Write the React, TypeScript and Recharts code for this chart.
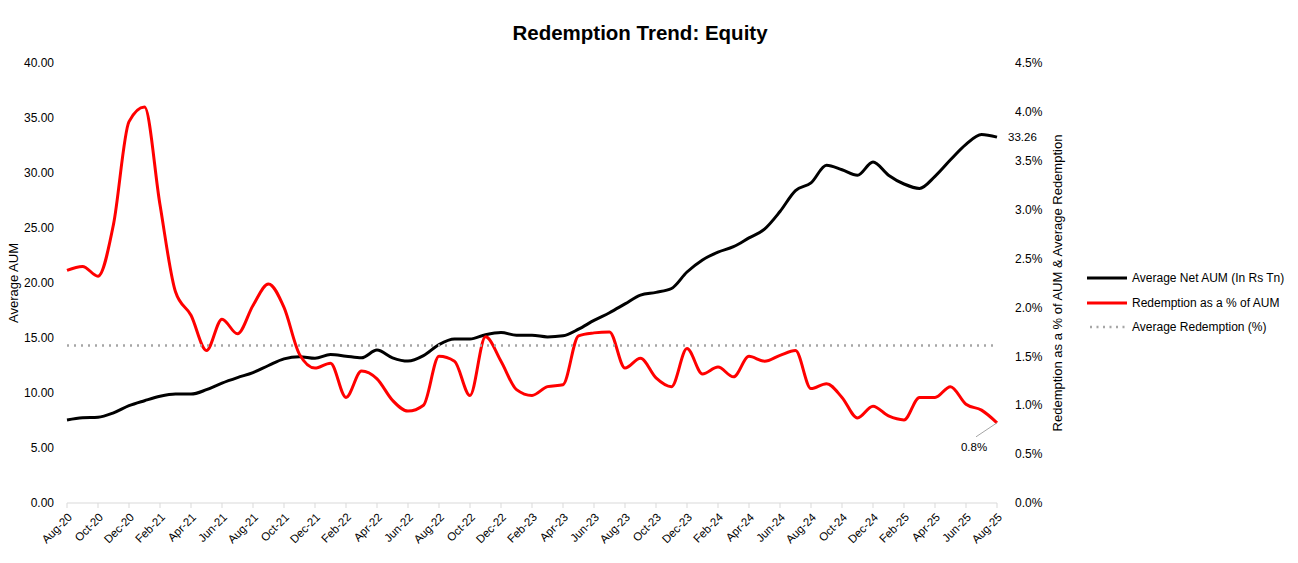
import { LineChart, Line, XAxis, YAxis, Legend, LabelList } from "recharts";

const MONTHS = [
  "Aug-20", "Sep-20", "Oct-20", "Nov-20", "Dec-20",
  "Jan-21", "Feb-21", "Mar-21", "Apr-21", "May-21", "Jun-21", "Jul-21", "Aug-21", "Sep-21", "Oct-21", "Nov-21", "Dec-21",
  "Jan-22", "Feb-22", "Mar-22", "Apr-22", "May-22", "Jun-22", "Jul-22", "Aug-22", "Sep-22", "Oct-22", "Nov-22", "Dec-22",
  "Jan-23", "Feb-23", "Mar-23", "Apr-23", "May-23", "Jun-23", "Jul-23", "Aug-23", "Sep-23", "Oct-23", "Nov-23", "Dec-23",
  "Jan-24", "Feb-24", "Mar-24", "Apr-24", "May-24", "Jun-24", "Jul-24", "Aug-24", "Sep-24", "Oct-24", "Nov-24", "Dec-24",
  "Jan-25", "Feb-25", "Mar-25", "Apr-25", "May-25", "Jun-25", "Jul-25", "Aug-25",
];

// Average Net AUM (In Rs Tn)
const AUM = [
  7.55, 7.75, 7.8, 8.2, 8.85,
  9.3, 9.7, 9.9, 9.9, 10.3, 10.9, 11.4, 11.85, 12.5, 13.1, 13.3, 13.15,
  13.5, 13.35, 13.2, 13.9, 13.2, 12.9, 13.4, 14.4, 14.9, 14.9, 15.3, 15.5,
  15.25, 15.25, 15.1, 15.2, 15.8, 16.6, 17.3, 18.1, 18.9, 19.15, 19.5, 21.0,
  22.1, 22.8, 23.3, 24.1, 24.9, 26.5, 28.4, 29.1, 30.7, 30.3, 29.8, 31.0,
  29.8, 29.0, 28.6, 29.7, 31.2, 32.6, 33.5, 33.26,
];

// Redemption as a % of AUM
const REDEMPTION_PCT = [
  2.38, 2.42, 2.32, 2.85, 3.9,
  4.05, 3.05, 2.16, 1.92, 1.56, 1.88, 1.73, 2.02, 2.24, 2.0, 1.52, 1.38,
  1.43, 1.08, 1.35, 1.27, 1.05, 0.94, 1.0, 1.5, 1.45, 1.1, 1.7, 1.45,
  1.16, 1.1, 1.19, 1.21, 1.71, 1.74, 1.75, 1.38, 1.48, 1.28, 1.19, 1.58,
  1.32, 1.39, 1.29, 1.5, 1.45, 1.51, 1.56, 1.17, 1.22, 1.08, 0.87, 0.99,
  0.89, 0.85, 1.08, 1.08, 1.19, 1.01, 0.95, 0.82,
];

const AVG_REDEMPTION = 1.61;

const AUM_TICKS = [0, 5, 10, 15, 20, 25, 30, 35, 40];
const PCT_TICKS = [0, 0.5, 1, 1.5, 2, 2.5, 3, 3.5, 4, 4.5];

const SERIES_ORDER = ["aum", "pct", "avg"];

const data = MONTHS.map((month, i) => ({
  month,
  aum: AUM[i],
  pct: REDEMPTION_PCT[i],
  avg: AVG_REDEMPTION,
}));

const FONT = "'Liberation Sans', Arial, sans-serif";
const LAST = MONTHS.length - 1;

const XTick = ({ x, y, payload }: any) => (
  <g transform={`translate(${x + 3},${y + 3})`}>
    <text
      transform="rotate(-45)"
      textAnchor="end"
      dy="0.35em"
      fontSize={11.5}
      fontFamily={FONT}
      fill="#000"
    >
      {payload.value}
    </text>
  </g>
);

const AumEndLabel = ({ x, y, index, value }: any) => {
  if (index !== LAST) return null;
  return (
    <text x={x + 11} y={y} dy="0.35em" fontSize={11.5} fontFamily={FONT} fill="#000">
      {Number(value).toFixed(2)}
    </text>
  );
};

const PctEndLabel = ({ x, y, index, value }: any) => {
  if (index !== LAST) return null;
  return (
    <g>
      <line x1={x} y1={y} x2={x - 21} y2={y + 14} stroke="#A6A6A6" strokeWidth={1} />
      <text x={x - 23} y={y + 24} dy="0.35em" textAnchor="middle" fontSize={11.5} fontFamily={FONT} fill="#000">
        {`${Number(value).toFixed(1)}%`}
      </text>
    </g>
  );
};

const LegendContent = ({ payload }: any) => {
  const items = [...(payload || [])].sort(
    (a: any, b: any) => SERIES_ORDER.indexOf(a.dataKey) - SERIES_ORDER.indexOf(b.dataKey)
  );
  return (
    <div style={{ fontFamily: FONT, fontSize: 12, color: "#000" }}>
      {items.map((entry: any) => (
        <div key={entry.value} style={{ display: "flex", alignItems: "center", height: 24.5 }}>
          <svg width={42} height={8} style={{ marginRight: 3 }}>
            {entry.dataKey === "avg" ? (
              <line x1={3} y1={4} x2={38} y2={4} stroke="#A6A6A6" strokeWidth={2.5} strokeDasharray="2 4.5" />
            ) : (
              <line x1={0} y1={4} x2={40} y2={4} stroke={entry.color} strokeWidth={3} />
            )}
          </svg>
          <span>{entry.value}</span>
        </div>
      ))}
    </div>
  );
};

export default function App() {
  return (
    <div style={{ position: "absolute", left: 0, top: 0, width: 1298, height: 563, background: "#fff" }}>
      <div
        style={{
          position: "absolute",
          left: 0,
          top: 21,
          width: 1280,
          textAlign: "center",
          fontFamily: FONT,
          fontWeight: "bold",
          fontSize: 20.5,
          color: "#000",
        }}
      >
        Redemption Trend: Equity
      </div>
      <LineChart width={1298} height={563} data={data} margin={{ top: 63, right: 221, bottom: 5, left: 0 }}>
        <XAxis
          dataKey="month"
          interval={1}
          height={55}
          tick={<XTick />}
          tickSize={5}
          tickMargin={4}
          axisLine={{ stroke: "#D9D9D9" }}
          tickLine={{ stroke: "#D9D9D9" }}
        />
        <YAxis
          yAxisId="left"
          domain={[0, 40]}
          ticks={AUM_TICKS}
          width={67}
          axisLine={false}
          tickLine={false}
          tickSize={6}
          tickMargin={7}
          tick={{ fontSize: 12, fontFamily: FONT, fill: "#000" }}
          tickFormatter={(v: number) => v.toFixed(2)}
          label={{
            value: "Average AUM",
            angle: -90,
            position: "center",
            dx: -20,
            style: { fontSize: 13, fontFamily: FONT, fill: "#000" },
          }}
        />
        <YAxis
          yAxisId="right"
          orientation="right"
          domain={[0, 4.5]}
          ticks={PCT_TICKS}
          width={80}
          axisLine={false}
          tickLine={false}
          tickSize={6}
          tickMargin={12}
          tick={{ fontSize: 12, fontFamily: FONT, fill: "#000" }}
          tickFormatter={(v: number) => `${v.toFixed(1)}%`}
          label={{
            value: "Redemption as a % of AUM & Average Redemption",
            angle: -90,
            position: "center",
            dx: 20,
            style: { fontSize: 13, fontFamily: FONT, fill: "#000" },
          }}
        />
        <Legend
          layout="vertical"
          align="center"
          verticalAlign="middle"
          wrapperStyle={{ left: 1087, top: 266, width: 210 }}
          content={<LegendContent />}
        />
        <Line
          yAxisId="left"
          type="monotone"
          dataKey="aum"
          name="Average Net AUM (In Rs Tn)"
          stroke="#000000"
          strokeWidth={3}
          dot={false}
          activeDot={false}
          isAnimationActive={false}
        >
          <LabelList dataKey="aum" content={<AumEndLabel />} />
        </Line>
        <Line
          yAxisId="right"
          type="monotone"
          dataKey="pct"
          name="Redemption as a % of AUM"
          stroke="#FF0000"
          strokeWidth={3}
          dot={false}
          activeDot={false}
          isAnimationActive={false}
        >
          <LabelList dataKey="pct" content={<PctEndLabel />} />
        </Line>
        <Line
          yAxisId="right"
          type="linear"
          dataKey="avg"
          name="Average Redemption (%)"
          stroke="#A6A6A6"
          strokeWidth={2.5}
          strokeDasharray="2 5"
          dot={false}
          activeDot={false}
          isAnimationActive={false}
        />
      </LineChart>
    </div>
  );
}
